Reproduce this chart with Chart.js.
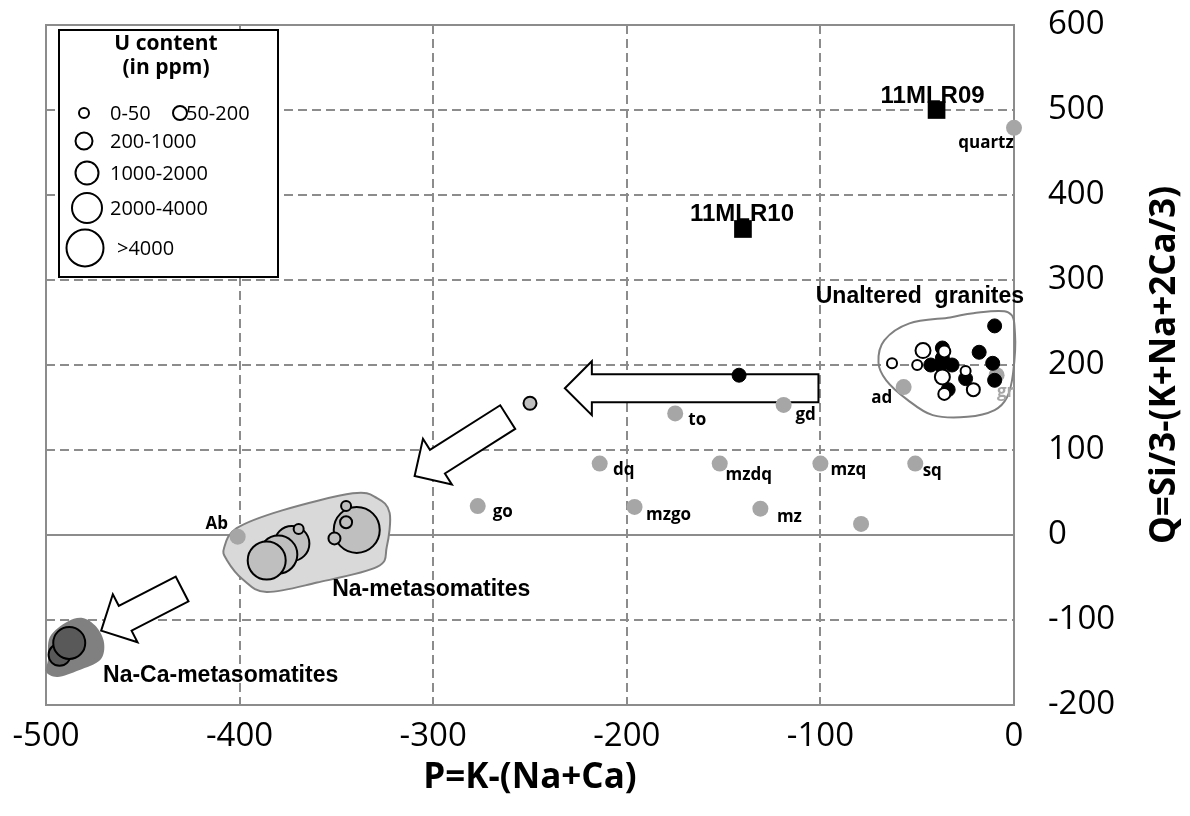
<!DOCTYPE html>
<html>
<head>
<meta charset="utf-8">
<title>P-Q diagram</title>
<script src="https://cdn.jsdelivr.net/npm/chart.js@4.4.1/dist/chart.umd.min.js"></script>
<style>
    html, body { margin: 0; padding: 0; background: #fff; }
    canvas { display: block; }
</style>
</head>
<body>
<canvas id="pqChart" width="1190" height="816"></canvas>
<script>
"use strict";

// Axlar
const xTicks = [-500, -400, -300, -200, -100, 0];
const yTicks = [-200, -100, 0, 100, 200, 300, 400, 500, 600];

// Referensmineral / bergarter (grå punkter)
const mineralNames = ['quartz', 'to', 'gd', 'dq', 'mzdq', 'mzq', 'sq', 'go', 'mzgo', 'mz', 'ad', 'gr', 'Ab', ''];
const mineralP = [0, -175, -119, -214, -152, -100, -51, -277, -196, -131, -57, -9, -401, -79];
const mineralQ = [479, 143, 153, 84, 84, 84, 84, 34, 33, 31, 174, 188, -2, 13];

// Prover 11MLR09 och 11MLR10
const sampleNames = ['11MLR09', '11MLR10'];
const sampleP = [-40, -140];
const sampleQ = [500, 360];

// Oomvandlade graniter (svarta och vita)
const graniteBlackP = [-10, -18, -11, -10, -37, -43, -38, -32, -37, -25, -34, -142];
const graniteBlackQ = [246, 215, 202, 182, 220, 200, 200, 200, 208, 184, 171, 188];
const graniteWhiteP = [-63, -50, -47, -36, -37, -25, -36, -21];
const graniteWhiteQ = [202, 200, 217, 216, 186, 193, 166, 171];

// Övergångspunkt
const transitionP = [-250];
const transitionQ = [155];

// Na-metasomatiter
const naMetaP = [-373, -380, -386, -369.5, -339.5, -345, -345, -351];
const naMetaQ = [-10, -23, -30, 7, 6, 34, 15, -4];

// Na-Ca-metasomatiter
const naCaP = [-493, -488];
const naCaQ = [-141, -127];

// Fält (omslutande kurvor)
const graniteHullP = [-70, -67, -54, -33, -21, -3, 0.5, -0.5, -3.6, -10, -24, -42, -55, -66];
const graniteHullQ = [203, 229, 249, 256, 261, 262, 237, 190, 162, 147, 139, 141, 159, 182];
const naHullP = [-408, -401.5, -378, -341.6, -329, -322.5, -324, -329, -360, -386, -398, -406.7];
const naHullQ = [-15, 8, 29, 49, 43.5, 26, -14, -37.6, -56, -67, -53, -29];
const naCaHullP = [-499, -498, -489, -481, -474, -470, -472, -483, -494, -500];
const naCaHullQ = [-147, -120, -102, -97.5, -108, -127, -147, -159, -167, -161];

// Pilar (svans -> spets)
const arrowTailP = [-101, -261.5, -429.7];
const arrowTailQ = [172.7, 138.7, -63.5];
const arrowTipP = [-232, -309.6, -471.5];
const arrowTipQ = [172.7, 69.3, -112.5];

// Fältnamn
const groupNames = ['Unaltered  granites', 'Na-metasomatites', 'Na-Ca-metasomatites'];
const groupP = [-48.6, -301, -409.8];
const groupQ = [280, -64.6, -165.7];

// Legend för U-halt
const uClassLabels = ['0-50', '50-200', '200-1000', '1000-2000', '2000-4000', '>4000'];

// ---- Stil (storlekar, färger, förskjutningar) ----
const graniteWhiteRadius = [5, 5, 7.5, 6, 7.5, 5, 6, 6.5];
const naMetaRadius = [17.5, 19, 19, 5, 23, 5, 6, 6];
const naCaRadius = [11, 16];
const legendRadius = [5, 7, 8.5, 11.5, 15, 18.5];

const labelOffsets = {
    quartz: [-28, 15], to: [22, 7], gd: [22, 10], dq: [24, 7], mzdq: [29, 12],
    mzq: [28, 7], sq: [17, 8], go: [25, 6], mzgo: [34, 8], mz: [29, 9],
    ad: [-22, 11], gr: [9, 17], Ab: [-21, -13]
};
const sampleOffsets = [[-4, -14], [-1, -15]];

const GRID = '#8c8c8c';
const MINERAL_GRAY = '#a6a6a6';

Chart.defaults.font.family = "'Open Sans', sans-serif";
Chart.defaults.color = '#000';

// Gör om två listor till punktobjekt
function toPoints(xs, ys) {
    return xs.map((x, i) => ({ x: x, y: ys[i] }));
}

// Mjuk sluten kurva (Catmull-Rom)
function smoothClosedPath(ctx, pts) {
    const n = pts.length;
    ctx.beginPath();
    ctx.moveTo(pts[0].x, pts[0].y);
    for (let i = 0; i < n; i++) {
        const p0 = pts[(i - 1 + n) % n], p1 = pts[i], p2 = pts[(i + 1) % n], p3 = pts[(i + 2) % n];
        ctx.bezierCurveTo(
            p1.x + (p2.x - p0.x) / 6, p1.y + (p2.y - p0.y) / 6,
            p2.x - (p3.x - p1.x) / 6, p2.y - (p3.y - p1.y) / 6,
            p2.x, p2.y
        );
    }
    ctx.closePath();
}

function hullPixels(chart, xs, ys) {
    const sx = chart.scales.x, sy = chart.scales.y;
    return xs.map((x, i) => ({ x: sx.getPixelForValue(x), y: sy.getPixelForValue(ys[i]) }));
}

// Blockpil i pixelrymd
function drawArrow(ctx, t, h) {
    const shaft = 14, head = 27, headLen = 27;
    const dx = h.x - t.x, dy = h.y - t.y;
    const len = Math.hypot(dx, dy);
    const ux = dx / len, uy = dy / len;
    const nx = -uy, ny = ux;
    const bx = h.x - ux * headLen, by = h.y - uy * headLen;
    ctx.beginPath();
    ctx.moveTo(t.x + nx * shaft, t.y + ny * shaft);
    ctx.lineTo(bx + nx * shaft, by + ny * shaft);
    ctx.lineTo(bx + nx * head, by + ny * head);
    ctx.lineTo(h.x, h.y);
    ctx.lineTo(bx - nx * head, by - ny * head);
    ctx.lineTo(bx - nx * shaft, by - ny * shaft);
    ctx.lineTo(t.x - nx * shaft, t.y - ny * shaft);
    ctx.closePath();
    ctx.fillStyle = '#fff';
    ctx.fill();
    ctx.lineWidth = 2;
    ctx.strokeStyle = '#000';
    ctx.lineJoin = 'miter';
    ctx.stroke();
}

// Plugin: ram, nollinje, fält och pilar under punkterna
const backgroundShapes = {
    id: 'backgroundShapes',
    beforeDatasetsDraw(chart) {
        const { ctx, chartArea: a, scales: { x: sx, y: sy } } = chart;
        ctx.save();

        // Ram och nollinje
        ctx.strokeStyle = GRID;
        ctx.lineWidth = 2;
        ctx.setLineDash([]);
        ctx.strokeRect(a.left, a.top, a.right - a.left, a.bottom - a.top);
        const y0 = sy.getPixelForValue(0);
        ctx.beginPath();
        ctx.moveTo(a.left, y0);
        ctx.lineTo(a.right, y0);
        ctx.stroke();

        // Na-Ca-fält
        smoothClosedPath(ctx, hullPixels(chart, naCaHullP, naCaHullQ));
        ctx.fillStyle = '#808080';
        ctx.fill();

        // Na-fält
        smoothClosedPath(ctx, hullPixels(chart, naHullP, naHullQ));
        ctx.fillStyle = '#d9d9d9';
        ctx.fill();
        ctx.strokeStyle = '#808080';
        ctx.lineWidth = 2;
        ctx.stroke();

        // Granitfält
        smoothClosedPath(ctx, hullPixels(chart, graniteHullP, graniteHullQ));
        ctx.strokeStyle = '#808080';
        ctx.lineWidth = 2;
        ctx.stroke();

        // Pilar
        arrowTailP.forEach((p, i) => {
            drawArrow(ctx,
                { x: sx.getPixelForValue(p), y: sy.getPixelForValue(arrowTailQ[i]) },
                { x: sx.getPixelForValue(arrowTipP[i]), y: sy.getPixelForValue(arrowTipQ[i]) });
        });

        ctx.restore();
    }
};

// Plugin: etiketter, y-axelns titel och legend
const annotations = {
    id: 'annotations',
    afterDatasetsDraw(chart) {
        const { ctx, chartArea: a, scales: { x: sx, y: sy } } = chart;
        ctx.save();
        ctx.textAlign = 'center';
        ctx.textBaseline = 'middle';

        // Mineraletiketter
        ctx.font = "bold 17px 'Open Sans'";
        mineralNames.forEach((name, i) => {
            if (!name) return;
            const off = labelOffsets[name];
            ctx.fillStyle = name === 'gr' ? MINERAL_GRAY : '#000';
            ctx.fillText(name, sx.getPixelForValue(mineralP[i]) + off[0], sy.getPixelForValue(mineralQ[i]) + off[1]);
        });

        // Provnamn
        ctx.fillStyle = '#000';
        ctx.font = "bold 24px 'Liberation Sans'";
        sampleNames.forEach((name, i) => {
            ctx.fillText(name, sx.getPixelForValue(sampleP[i]) + sampleOffsets[i][0],
                sy.getPixelForValue(sampleQ[i]) + sampleOffsets[i][1]);
        });

        // Fältnamn
        ctx.font = "bold 23px 'Liberation Sans'";
        groupNames.forEach((name, i) => {
            ctx.fillText(name, sx.getPixelForValue(groupP[i]), sy.getPixelForValue(groupQ[i]));
        });

        // Y-axelns titel (läses nerifrån och upp)
        ctx.save();
        ctx.translate(a.right + 151, (a.top + a.bottom) / 2);
        ctx.rotate(-Math.PI / 2);
        ctx.font = "bold 35px 'Open Sans'";
        ctx.fillText('Q=Si/3-(K+Na+2Ca/3)', 0, 0);
        ctx.restore();

        // Legend
        const lx = a.left + 13, ly = a.top + 5;
        ctx.fillStyle = '#fff';
        ctx.fillRect(lx, ly, 219, 247);
        ctx.strokeStyle = '#000';
        ctx.lineWidth = 2;
        ctx.strokeRect(lx, ly, 219, 247);

        ctx.fillStyle = '#000';
        ctx.font = "bold 21px 'Open Sans'";
        ctx.fillText('U content', lx + 107, ly + 14);
        ctx.fillText('(in ppm)', lx + 107, ly + 38);

        const rows = [
            [25, 83, 51], [121, 83, 127], [25, 111, 51],
            [28, 143, 51], [28, 178, 51], [26, 218, 58]
        ];
        ctx.font = "20px 'Open Sans'";
        ctx.textAlign = 'left';
        uClassLabels.forEach((lab, i) => {
            const [cx, cy, tx] = rows[i];
            ctx.beginPath();
            ctx.arc(lx + cx, ly + cy, legendRadius[i], 0, Math.PI * 2);
            ctx.fillStyle = '#fff';
            ctx.fill();
            ctx.lineWidth = 2;
            ctx.strokeStyle = '#000';
            ctx.stroke();
            ctx.fillStyle = '#000';
            ctx.fillText(lab, lx + tx, ly + cy + 1);
        });

        ctx.restore();
    }
};

// Datamängder listas nerifrån och upp
const datasets = [
    {
        label: 'Referenser',
        data: toPoints(mineralP, mineralQ),
        backgroundColor: MINERAL_GRAY,
        borderWidth: 0,
        pointRadius: 8
    },
    {
        label: 'Övergång',
        data: toPoints(transitionP, transitionQ),
        backgroundColor: '#bfbfbf',
        borderColor: '#000',
        borderWidth: 2,
        pointRadius: 6.5
    },
    {
        label: 'Graniter (svarta)',
        data: toPoints(graniteBlackP, graniteBlackQ),
        backgroundColor: '#000',
        borderColor: '#000',
        borderWidth: 1,
        pointRadius: 7
    },
    {
        label: 'Graniter (vita)',
        data: toPoints(graniteWhiteP, graniteWhiteQ),
        backgroundColor: '#fff',
        borderColor: '#000',
        borderWidth: 2,
        pointRadius: graniteWhiteRadius
    },
    {
        label: 'Na-metasomatiter',
        data: toPoints(naMetaP, naMetaQ),
        backgroundColor: '#bfbfbf',
        borderColor: '#000',
        borderWidth: 2,
        pointRadius: naMetaRadius
    },
    {
        label: 'Na-Ca-metasomatiter',
        data: toPoints(naCaP, naCaQ),
        backgroundColor: '#595959',
        borderColor: '#000',
        borderWidth: 2,
        pointRadius: naCaRadius
    },
    {
        label: 'Prover',
        data: toPoints(sampleP, sampleQ),
        pointStyle: 'rect',
        backgroundColor: '#000',
        borderColor: '#000',
        borderWidth: 0,
        pointRadius: 12.5
    }
];
// Första datamängden ritas överst i Chart.js, så vänd ordningen
datasets.forEach((ds, i) => { ds.order = datasets.length - i; ds.pointHoverRadius = ds.pointRadius; });

new Chart(document.getElementById('pqChart'), {
    type: 'scatter',
    data: { datasets: datasets },
    options: {
        responsive: false,
        animation: false,
        events: [],
        clip: false,
        layout: { padding: { left: 46, top: 24, right: 10, bottom: 8 } },
        plugins: {
            legend: { display: false },
            tooltip: { enabled: false }
        },
        scales: {
            x: {
                type: 'linear',
                position: 'bottom',
                min: xTicks[0],
                max: xTicks[xTicks.length - 1],
                afterBuildTicks: (scale) => { scale.ticks = xTicks.map(v => ({ value: v })); },
                afterFit: (scale) => {
                    scale.height = 103;
                    scale.paddingLeft = 30;
                    scale.paddingRight = 10;
                },
                grid: { color: GRID, lineWidth: 2, drawTicks: false },
                border: { color: GRID, width: 2, dash: [9, 5] },
                ticks: { font: { size: 33 }, padding: 12, color: '#000' },
                title: {
                    display: true,
                    text: 'P=K-(Na+Ca)',
                    font: { size: 35, weight: 'bold' },
                    color: '#000',
                    padding: { top: 0, bottom: 9 }
                }
            },
            y: {
                type: 'linear',
                position: 'right',
                min: yTicks[0],
                max: yTicks[yTicks.length - 1],
                afterBuildTicks: (scale) => { scale.ticks = yTicks.map(v => ({ value: v })); },
                afterFit: (scale) => {
                    // ticks.padding läggs annars på ritytans övre kant
                    scale.width = 166;
                    scale.paddingTop = 20;
                    scale.paddingBottom = 20;
                },
                grid: { color: GRID, lineWidth: 2, drawTicks: false },
                border: { color: GRID, width: 2, dash: [9, 5] },
                ticks: { font: { size: 33 }, padding: 34, color: '#000' },
                title: { display: false }
            }
        }
    },
    plugins: [backgroundShapes, annotations]
});
</script>
</body>
</html>
